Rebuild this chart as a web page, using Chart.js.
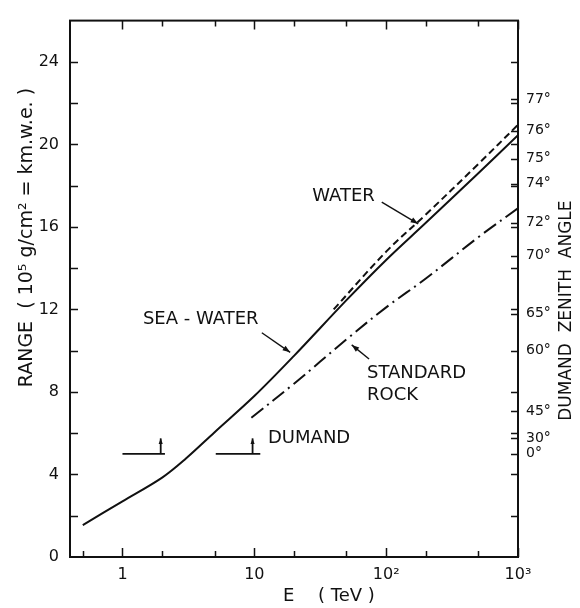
<!DOCTYPE html>
<html>
<head>
<meta charset="utf-8">
<script src="https://cdn.jsdelivr.net/npm/chart.js@4.4.1/dist/chart.umd.min.js"></script>
<style>
    html, body { margin: 0; padding: 0; background: #fff; }
    #wrap { width: 580px; height: 608px; }
</style>
</head>
<body>
<div id="wrap"><canvas id="rangeChart" width="580" height="608"></canvas></div>
<script>
// 뮤온 에너지 (TeV) 와 도달 거리 (10^5 g/cm^2 = km.w.e.)
const seaWaterE = [0.5, 1, 2, 3, 5, 10, 20, 50, 100, 200, 500, 1000];
const seaWaterRange = [1.55, 2.7, 3.85, 4.75, 6.05, 7.8, 9.75, 12.45, 14.4, 16.2, 18.6, 20.45];

const waterE = [40, 100, 200, 500, 1000];
const waterRange = [12.0, 14.8, 16.6, 19.05, 20.95];

const rockE = [9.5, 20, 50, 100, 200, 500, 1000];
const rockRange = [6.75, 8.4, 10.55, 12.1, 13.5, 15.5, 16.9];

// DUMAND 임계 표시 (수평선 두 개, 화살표)
const dumandLow = [1, 2.1];
const dumandHigh = [5.1, 11.1];
const dumandLevel = 5;
const dumandArrowE = [1.95, 9.7];
const dumandArrowTop = 5.75;

// 축 눈금
const xLabelTicks = [1, 10, 100, 1000];
const xLabelText = ['1', '10', '10²', '10³'];
const xMinorTicks = [0.5, 2, 5, 20, 50, 200, 500];
const yLabelTicks = [0, 4, 8, 12, 16, 20, 24];
const yMinorTicks = [2, 4, 6, 8, 10, 12, 14, 16, 18, 20, 22, 24];

// 오른쪽 축: DUMAND 천정각과 해당 깊이
const zenithAngles = [0, 30, 45, 60, 65, 70, 72, 74, 75, 76, 77];
const zenithRange = [5.0, 5.77, 7.07, 10.0, 11.8, 14.6, 16.2, 18.1, 19.3, 20.67, 22.2];

// 곡선 이름표와 지시 화살표 (데이터 좌표)
const notes = [
    { text: 'WATER', e: 27.5, r: 17.5 },
    { text: 'SEA - WATER', e: 1.43, r: 11.5 },
    { text: 'STANDARD', e: 71.6, r: 8.9 },
    { text: 'ROCK', e: 71.6, r: 7.85 },
    { text: 'DUMAND', e: 12.7, r: 5.75 }
];
const pointers = [
    { from: [92.6, 17.2], to: [175, 16.15] },
    { from: [11.4, 10.87], to: [18.7, 9.92] },
    { from: [74.2, 9.6], to: [54.8, 10.28] }
];

const FONT = '"DejaVu Sans", "Liberation Sans", sans-serif';
const INK = '#111';

function toPoints(xs, ys) {
    return xs.map((v, i) => ({ x: v, y: ys[i] }));
}

function drawArrow(ctx, x0, y0, x1, y1, head) {
    ctx.beginPath();
    ctx.moveTo(x0, y0);
    ctx.lineTo(x1, y1);
    ctx.stroke();
    const ang = Math.atan2(y1 - y0, x1 - x0);
    ctx.beginPath();
    ctx.moveTo(x1, y1);
    ctx.lineTo(x1 - head * Math.cos(ang - 0.35), y1 - head * Math.sin(ang - 0.35));
    ctx.lineTo(x1 - head * Math.cos(ang + 0.35), y1 - head * Math.sin(ang + 0.35));
    ctx.closePath();
    ctx.fill();
}

// 테두리, 안쪽 눈금, 이름표, 축 제목
const framePlugin = {
    id: 'framePlugin',
    afterDatasetsDraw(chart) {
        const { ctx, chartArea: a, scales } = chart;
        const x = scales.x, y = scales.y;
        ctx.save();
        ctx.strokeStyle = INK;
        ctx.fillStyle = INK;

        ctx.lineWidth = 2;
        ctx.strokeRect(a.left, a.top, a.right - a.left, a.bottom - a.top);

        ctx.lineWidth = 1.5;
        ctx.beginPath();
        xLabelTicks.concat(xMinorTicks).forEach(v => {
            const px = Math.round(x.getPixelForValue(v)) + 0.5;
            const len = xLabelTicks.includes(v) ? 9 : 6;
            ctx.moveTo(px, a.bottom);
            ctx.lineTo(px, a.bottom - len);
            if (v >= 1) {
                ctx.moveTo(px, a.top);
                ctx.lineTo(px, a.top + len);
            }
        });
        yMinorTicks.forEach(v => {
            const py = Math.round(y.getPixelForValue(v)) + 0.5;
            ctx.moveTo(a.left, py);
            ctx.lineTo(a.left + 8, py);
            ctx.moveTo(a.right, py);
            ctx.lineTo(a.right - 7, py);
        });
        zenithRange.forEach(v => {
            const py = Math.round(y.getPixelForValue(v)) + 0.5;
            ctx.moveTo(a.right, py);
            ctx.lineTo(a.right - 7, py);
        });
        ctx.stroke();

        // DUMAND 화살표
        ctx.lineWidth = 1.8;
        dumandArrowE.forEach(e => {
            const px = x.getPixelForValue(e);
            drawArrow(ctx, px, y.getPixelForValue(dumandLevel), px, y.getPixelForValue(dumandArrowTop), 6);
        });

        // 지시 화살표
        ctx.lineWidth = 1.4;
        pointers.forEach(p => {
            drawArrow(ctx,
                x.getPixelForValue(p.from[0]), y.getPixelForValue(p.from[1]),
                x.getPixelForValue(p.to[0]), y.getPixelForValue(p.to[1]), 8);
        });

        // 이름표
        ctx.font = '18px ' + FONT;
        ctx.textAlign = 'left';
        ctx.textBaseline = 'middle';
        notes.forEach(n => {
            ctx.fillText(n.text, x.getPixelForValue(n.e), y.getPixelForValue(n.r));
        });

        // 왼쪽 축 제목
        ctx.save();
        ctx.translate(27, a.top + 217);
        ctx.rotate(-Math.PI / 2);
        ctx.textAlign = 'center';
        ctx.font = '19px ' + FONT;
        ctx.fillText('RANGE  ( 10⁵ g/cm² = km.w.e. )', 0, 0);
        ctx.restore();

        // 오른쪽 축 제목
        ctx.save();
        ctx.translate(567, a.top + 290);
        ctx.rotate(-Math.PI / 2);
        ctx.textAlign = 'center';
        ctx.font = '17px ' + FONT;
        ctx.fillText('DUMAND  ZENITH  ANGLE', 0, 0);
        ctx.restore();

        // 아래 축 제목
        ctx.font = '18px ' + FONT;
        ctx.textAlign = 'left';
        ctx.fillText('E', 283, a.bottom + 39);
        ctx.fillText('( TeV )', 318, a.bottom + 39);

        ctx.restore();
    }
};

const lineStyle = {
    borderColor: INK,
    borderWidth: 2,
    pointRadius: 0,
    fill: false,
    tension: 0.35
};

new Chart(document.getElementById('rangeChart'), {
    type: 'line',
    data: {
        datasets: [
            { label: 'Sea-water', data: toPoints(seaWaterE, seaWaterRange), ...lineStyle },
            { label: 'Water', data: toPoints(waterE, waterRange), ...lineStyle, borderDash: [7, 4] },
            { label: 'Standard rock', data: toPoints(rockE, rockRange), ...lineStyle, borderDash: [15, 5, 2, 5] },
            { label: 'DUMAND 1', data: dumandLow.map(e => ({ x: e, y: dumandLevel })), ...lineStyle, borderWidth: 1.6 },
            { label: 'DUMAND 2', data: dumandHigh.map(e => ({ x: e, y: dumandLevel })), ...lineStyle, borderWidth: 1.6 }
        ]
    },
    options: {
        responsive: false,
        animation: false,
        devicePixelRatio: 1,
        layout: { padding: { top: 10, left: 0, right: 0, bottom: 0 } },
        plugins: {
            legend: { display: false },
            tooltip: { enabled: false }
        },
        scales: {
            x: {
                type: 'logarithmic',
                position: 'bottom',
                min: 0.4,
                max: 1000,
                grid: { display: false, drawTicks: false },
                border: { display: false },
                afterBuildTicks: s => { s.ticks = xLabelTicks.map(v => ({ value: v })); },
                afterFit: s => { s.height = 51; },
                ticks: {
                    autoSkip: false,
                    maxRotation: 0,
                    padding: 8,
                    color: INK,
                    font: { family: FONT, size: 16 },
                    callback: v => xLabelText[xLabelTicks.indexOf(v)]
                }
            },
            y: {
                type: 'linear',
                position: 'left',
                min: 0,
                max: 26,
                grid: { display: false, drawTicks: false },
                border: { display: false },
                afterBuildTicks: s => { s.ticks = yLabelTicks.map(v => ({ value: v })); },
                afterFit: s => { s.width = 70; },
                ticks: {
                    padding: 11,
                    color: INK,
                    font: { family: FONT, size: 16 }
                }
            },
            y2: {
                type: 'linear',
                position: 'right',
                min: 0,
                max: 26,
                grid: { display: false, drawTicks: false },
                border: { display: false },
                afterBuildTicks: s => { s.ticks = zenithRange.map(v => ({ value: v })); },
                afterFit: s => { s.width = 62; },
                ticks: {
                    padding: 8,
                    color: INK,
                    font: { family: FONT, size: 14 },
                    callback: v => zenithAngles[zenithRange.indexOf(v)] + '°'
                }
            }
        }
    },
    plugins: [framePlugin]
});
</script>
</body>
</html>
